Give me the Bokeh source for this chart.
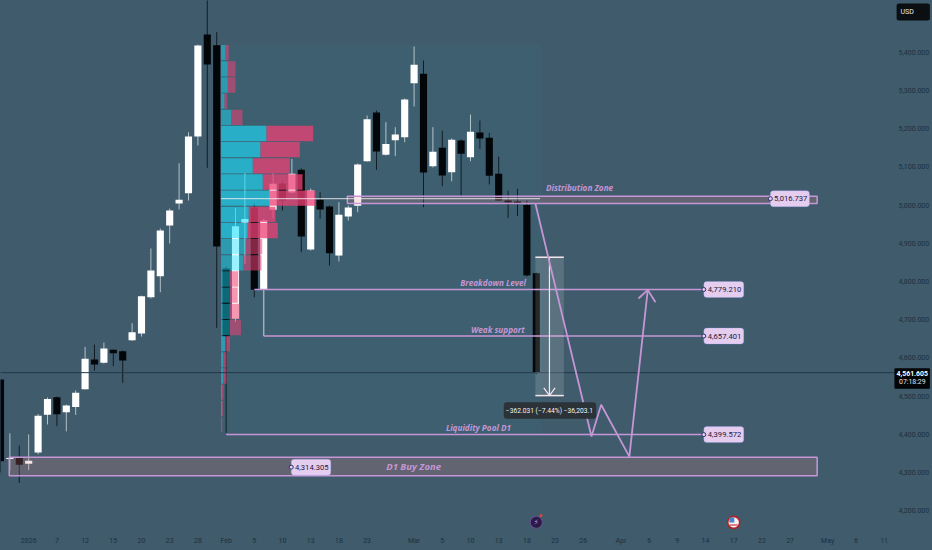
import numpy as np
from bokeh.plotting import figure
from bokeh.embed import file_html
from bokeh.resources import INLINE
from bokeh.models import Range1d, FixedTicker, BoxAnnotation, Label, NumeralTickFormatter, LinearAxis
from bokeh.core.properties import value

# ---- data ----
first_bar = -3
opens  = [4543.7,4335.7,4339,4323,4353,4451.3,4497,4458,4472,4518,4596,4587.4,4621.4,4617.7,4646.5,4664,4759,4814,4946.6,5004,5031,5179.5,5446.3,5418.3,4834,4702.5,4954.5,4993.7,4778.4,4987.7,5056.5,5033,5092.3,4884,5013.8,4996.3,4868,4970,4998,5114.8,5242,5131.6,5169.8,5177.6,5319,5343.5,5101.8,5150,5086,5169,5125.3,5190,5176,5082,5012,5009.4,5000,4821.8]
highs  = [4544,4403,4371,4400,4453.4,4496.6,4499,4478,4515,4629,4635,4640.5,4622,4619.5,4691,4763,4886.4,4938.8,4991,5109.6,5190.7,5420,5560,5452.4,4839,4992,5083.4,5004,4965,5082.7,5064,5121,5096,5043.4,5033.7,4999,5007.6,4999,5109,5234.4,5247.5,5217,5203.8,5279,5415,5378.3,5203.8,5195,5174.2,5171.6,5237,5221.3,5189,5127,5038,5042.6,5012,4823.6]
lows   = [4300.4,4306,4273,4307,4348,4426,4421.5,4408,4451,4517.5,4567,4585.5,4578.5,4535,4644.4,4656,4755.6,4772,4899.5,4988.5,5012,5156,5097.6,4679,4404,4693.6,4846.4,4759,4778,4965,4986,5030,4876.7,4881,4964,4842,4852.4,4959.7,4981.4,5114,5092.3,5129.8,5128,5164.5,5258,4994.5,5098.4,5049.4,5062.5,5020.6,5114.8,5147.3,5054,5012,4966,4971,4813,4557]
closes = [4329.9,4338,4320.5,4331,4449,4493,4453,4475.7,4509,4598,4583,4625,4612.5,4593.4,4667.4,4761.6,4829,4933.5,4986,5013.8,5179.5,5417.6,5367.8,4891.7,4656,4944.8,4963.6,4778.4,4959.7,5055.7,5012,5082,4917.8,5038,4988.5,4874,4974.6,4993.7,5106,5224.7,5140,5160,5184.7,5276.3,5367,5085.3,5139.4,5077.4,5170.8,5134.2,5191.8,5174.2,5076.6,5012,5007,5005,4816,4561.605]

profile_up   = [4.5,6.8,6.8,3.5,10.2,45.5,39.5,31.8,41.8,48.5,27.8,26.8,24.5,22.5,8.8,8.5,8.8,8.5,4,2.2,2.2,1,1,0.5]
profile_down = [3.3,7.7,7.7,2.7,11.3,46.7,39.3,37,39.7,46,26.7,30,16.7,18,8.4,8.2,10,11.5,5,3.3,3.3,1.5,0.8,0.7]
value_area   = [0,0,0,0,0,1,1,1,1,1,1,1,0,0,0,0,0,0,0,0,0,0,0,0]

y_ticks = [4200,4300,4400,4500,4600,4700,4800,4900,5000,5100,5200,5300,5400]
x_ticks = [0,3,6,9,12,15,18,21,24,27,30,33,36,41,44,47,50,53,56,59,63,66,69,72,75,78,81,85,88,91]
x_tick_labels = ["2026","7","12","15","20","23","28","Feb","5","10","13","18","23","Mar","5","10","13","18","23","26","Apr","6","9","14","17","22","27","May","6","11"]

current_price = 4561.605
level_prices = [5016.737, 4779.210, 4657.401, 4399.572, 4314.305]
level_labels = ["5,016.737", "4,779.210", "4,657.401", "4,399.572", "4,314.305"]
forecast_x = [53.9, 59.87, 60.9, 63.9, 65.86]
forecast_y = [5004, 4394.6, 4477.5, 4342, 4778]

# ---- style ----
BG = "#3F5B6C"; LILAC = "#C596D5"; TICK = "#1E3040"; FONT = "Roboto"; TAG = "#E5CDF0"
chart_end_bar = 91.68      # right edge of the candle pane; the price scale sits beyond it
chart_low_price = 4148.6   # bottom edge of the candle pane; the time scale sits below it

p = figure(width=932, height=550, frame_width=932, frame_height=550,
           x_range=Range1d(-3, 96.15), y_range=Range1d(4096.3, 5535.3),
           output_backend="svg", toolbar_location=None, tools="", x_axis_location=None, y_axis_location=None,
           min_border_left=0, min_border_top=0, min_border_right=0, min_border_bottom=0,
           background_fill_color=BG, border_fill_color=BG, outline_line_color=None,
           styles={"position": "absolute", "left": "0px", "top": "0px", "background-color": BG})
p.grid.visible = False

y_axis = LinearAxis(fixed_location=chart_end_bar, ticker=FixedTicker(ticks=y_ticks),
                    formatter=NumeralTickFormatter(format="0,0.000"), major_label_standoff=8)
x_axis = LinearAxis(fixed_location=chart_low_price, ticker=FixedTicker(ticks=x_ticks),
                    major_label_overrides={t: s for t, s in zip(x_ticks, x_tick_labels)}, major_label_standoff=6)
for ax in (x_axis, y_axis):
    ax.axis_line_color = None
    ax.major_tick_line_color = None
    ax.minor_tick_line_color = None
    ax.major_tick_out = 0
    ax.major_tick_in = 0
    ax.minor_tick_out = 0
    ax.minor_tick_in = 0
    ax.major_label_text_color = TICK
    ax.major_label_text_font = FONT
    ax.major_label_text_font_size = "7px"
p.add_layout(y_axis, "right")
p.add_layout(x_axis, "below")

# profile range tint
prof_left, px_per_bar = 20.46, 9.4
prof_top, prof_step = 5418.9, 42.3
p.quad(left=prof_left, right=54.55, top=prof_top, bottom=prof_top - prof_step * len(profile_up),
       fill_color="#2DAEC8", fill_alpha=0.05, line_color=None)

# candles
n = len(opens)
xs = np.arange(first_bar, first_bar + n)
o, h, l, c = map(np.array, (opens, highs, lows, closes))
up = c >= o
p.segment(xs[up], h[up], xs[up], l[up], line_color="#DDE6EA", line_alpha=0.75, line_width=1)
p.segment(xs[~up], h[~up], xs[~up], l[~up], line_color="#0A1218", line_alpha=0.85, line_width=1)
p.vbar(xs[up], 0.76, o[up], c[up], fill_color="#FFFFFF", line_color=None)
p.vbar(xs[~up], 0.76, c[~up], o[~up], fill_color="#030608", line_color=None)

# volume profile
tops = prof_top - prof_step * np.arange(len(profile_up))
bots = tops - prof_step * 0.95
u = np.array(profile_up) / px_per_bar
d = np.array(profile_down) / px_per_bar
va = np.array(value_area, dtype=bool)
p.quad(left=prof_left, right=prof_left + u, top=tops, bottom=bots, fill_color="#1BE2FF",
       fill_alpha=np.where(va, 0.6, 0.45).tolist(), line_color=None)
p.quad(left=prof_left + u, right=prof_left + u + d, top=tops, bottom=bots, fill_color="#EC4075",
       fill_alpha=np.where(va, 0.76, 0.55).tolist(), line_color=None)

# zones
p.quad(left=33.9, right=83.88, top=5023.3, bottom=5004.2, fill_color="#E18282", fill_alpha=0.22,
       line_color=LILAC, line_width=1.5)
p.quad(left=-2.07, right=83.88, top=4340.4, bottom=4291.7, fill_color="#E18282", fill_alpha=0.22,
       line_color=LILAC, line_width=1.5)
p.line([prof_left, 54.4], [level_prices[0], level_prices[0]], line_color="#F5ECF5", line_alpha=0.7, line_width=1.2)

# current price
p.line([-3, 92.1], [current_price, current_price], line_color="#22384A", line_width=1)

# level lines
p.line([24, 71.82], [level_prices[1]] * 2, line_color=LILAC, line_width=1.5)
p.line([25, 25], [level_prices[1], level_prices[2]], line_color="#9FAEBE", line_width=1.5)
p.line([25, 71.82], [level_prices[2]] * 2, line_color=LILAC, line_width=1.5)
p.line([21, 71.82], [level_prices[3]] * 2, line_color=LILAC, line_width=1.5)

# measure tool
p.quad(left=53.9, right=56.93, top=4863.6, bottom=4501.6, fill_color="#FFFFFF", fill_alpha=0.14, line_color=None)
p.line([53.9, 56.93], [4863.6, 4863.6], line_color="#F5E6EE", line_width=1.5)
p.line([53.9, 56.93], [4501.6, 4501.6], line_color="#F5E6EE", line_width=1.5)
p.line([55.4, 55.4], [4863.6, 4501.6], line_color="#F5E6EE", line_width=1.2)
p.line([54.8, 55.4, 56.0], [4522, 4501.6, 4522], line_color="#F5E6EE", line_width=1.2)

# forecast path
p.line(forecast_x, forecast_y, line_color=LILAC, line_width=1.8)
p.line([64.87, 65.86, 66.68], [4755.6, 4778, 4746], line_color=LILAC, line_width=1.8)

# text notes
notes_x = [58.6, 49.4, 49.9, 47.85]
notes_y = [5046, 4797.5, 4674.5, 4418]
notes = ["Distribution Zone", "Breakdown Level", "Weak support", "Liquidity Pool D1"]
p.text(notes_x, notes_y, text=notes, text_color=LILAC, text_align="center", text_baseline="middle",
       text_font=value("Open Sans"), text_font_style="bold italic", text_font_size="8.2px")
p.text([40.95], [4316], text=["D1 Buy Zone"], text_color=LILAC, text_align="center", text_baseline="middle",
       text_font=value("Open Sans"), text_font_style="bold italic", text_font_size="9.5px")

# event icons
p.scatter([54], [4170], size=12, fill_color="#2A1A45", line_color="#6A5090", line_width=1)
p.text([54], [4170], text=["\u26A1"], text_color="#B98CF0", text_align="center", text_baseline="middle",
       text_font=value("DejaVu Sans"), text_font_size="8px")
p.scatter([54.5], [4188], size=3, fill_color="#E0443A", line_color=None)
p.scatter([75], [4170], size=12, fill_color="#F2F2F2", line_color="#B3202C", line_width=1.6)
p.scatter([74.8], [4176], size=5, marker="square", fill_color="#4A86C8", line_color=None)
p.scatter([75], [4163], size=8, marker="dash", line_color="#C8383F", line_width=1.2)

# value tags
def tag(left, right, price, text):
    p.add_layout(BoxAnnotation(left=left, right=right, top=price + 21, bottom=price - 21,
                               fill_color=TAG, fill_alpha=1, line_color="#8A9BEA", line_width=1, border_radius=3))
    p.add_layout(Label(x=(left + right) / 2 + 0.08, y=price, text=text, text_color="#22183A", text_align="center",
                       text_baseline="middle", text_font=FONT, text_font_size="7.6px"))
    p.scatter([left], [price], size=4, fill_color=TAG, line_color="#26336E", line_width=1, level="overlay")

tag(78.9, 83.06, level_prices[0], level_labels[0])
tag(71.82, 76.07, level_prices[1], level_labels[1])
tag(71.82, 76.07, level_prices[2], level_labels[2])
tag(71.82, 76.07, level_prices[3], level_labels[3])
tag(27.93, 32.14, level_prices[4], level_labels[4])

# measure tooltip
p.add_layout(BoxAnnotation(left=50.54, right=60.37, top=4484.3, bottom=4440.9, fill_color="#2B3238", fill_alpha=1,
                           line_color=None, border_radius=3))
p.add_layout(Label(x=55.4, y=4462, text="\u2212362.031 (\u22127.44%) \u221236,203.1", text_color="#F2F2F2", text_align="center",
                   text_baseline="middle", text_font=FONT, text_font_size="6.7px"))

# right-hand badges
p.add_layout(BoxAnnotation(left=92.33, right=95.87, top=5527.5, bottom=5483, fill_color="#0B0F12", fill_alpha=1,
                           line_color=None, border_radius=2))
p.add_layout(Label(x=92.75, y=5505, text="USD", text_color="#E8E8E8", text_align="left", text_baseline="middle",
                   text_font=FONT, text_font_size="7px"))
p.add_layout(BoxAnnotation(left=92.1, right=95.87, top=4573, bottom=4519.3, fill_color="#020405", fill_alpha=1,
                           line_color=None, border_radius=1))
p.add_layout(Label(x=94.0, y=4560, text="4,561.605", text_color="#FFFFFF", text_align="center", text_baseline="middle",
                   text_font=FONT, text_font_size="6.9px", text_font_style="bold"))
p.add_layout(Label(x=94.0, y=4536, text="07:18:29", text_color="#E6E6E6", text_align="center", text_baseline="middle",
                   text_font=FONT, text_font_size="6.9px"))

open("out.html", "w").write(file_html(p, INLINE))
